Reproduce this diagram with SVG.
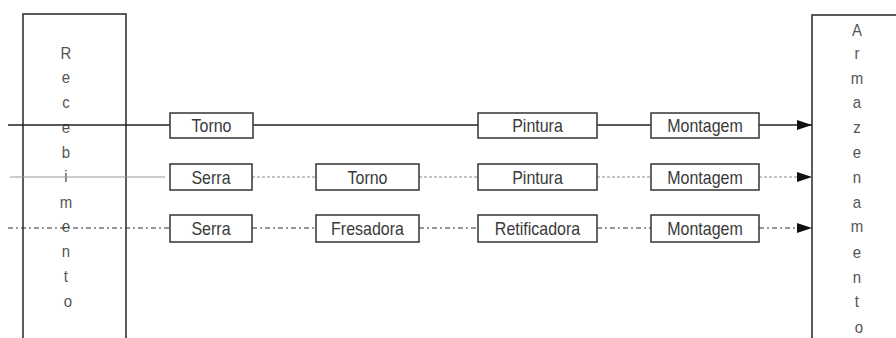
<svg xmlns="http://www.w3.org/2000/svg" width="896" height="338" viewBox="0 0 896 338">
  <style>
    .bg { fill: #ffffff; }
    .area { fill: #ffffff; stroke: #333333; stroke-width: 1.6; }
    .step rect { fill: #ffffff; stroke: #333333; stroke-width: 1.5; }
    .label { font-family: "Liberation Sans", Arial, sans-serif; font-size: 16px; fill: #3a3a3a; text-anchor: middle; }
    .vlabel { font-family: "Liberation Sans", Arial, sans-serif; font-size: 15px; fill: #555555; text-anchor: middle; }
    .route1 { stroke: #222222; stroke-width: 1.5; fill: none; }
    .route2 { stroke: #8a8a8a; stroke-width: 1.2; fill: none; stroke-dasharray: 3 2; }
    .route2a { stroke: #9a9a9a; stroke-width: 1.2; fill: none; }
    .route3 { stroke: #333333; stroke-width: 1.2; fill: none; stroke-dasharray: 5 3 2 3; }
  </style>
  <defs>
    <marker id="arrow" markerUnits="userSpaceOnUse" markerWidth="16" markerHeight="12" refX="15" refY="5" orient="auto">
      <path d="M0,0 L15,5 L0,10 Z" fill="#111111"/>
    </marker>
  </defs>

  <rect class="bg" x="0" y="0" width="896" height="338"/>

  <!-- receiving and storage areas -->
  <g id="recebimento">
    <rect class="area" x="23" y="14" width="103" height="340"/>
    <g transform="translate(68,0) scale(1,1.15)">
      <text class="vlabel">
        <tspan x="0" y="51">R</tspan>
        <tspan x="0" y="72.5">e</tspan>
        <tspan x="0" y="94">c</tspan>
        <tspan x="0" y="115.8">e</tspan>
        <tspan x="0" y="137.5">b</tspan>
        <tspan x="0" y="158.5">i</tspan>
        <tspan x="0" y="180.5">m</tspan>
        <tspan x="0" y="202">e</tspan>
        <tspan x="0" y="223.5">n</tspan>
        <tspan x="0" y="245.5">t</tspan>
        <tspan x="0" y="267">o</tspan>
      </text>
    </g>
  </g>
  <g id="armazenamento">
    <rect class="area" x="812" y="15" width="110" height="340"/>
    <g transform="translate(859,0) scale(1,1.15)">
      <text class="vlabel">
        <tspan x="0" y="31">A</tspan>
        <tspan x="0" y="51">r</tspan>
        <tspan x="0" y="73">m</tspan>
        <tspan x="0" y="94">a</tspan>
        <tspan x="0" y="116">z</tspan>
        <tspan x="0" y="137.5">e</tspan>
        <tspan x="0" y="159">n</tspan>
        <tspan x="0" y="181">a</tspan>
        <tspan x="0" y="202">m</tspan>
        <tspan x="0" y="224">e</tspan>
        <tspan x="0" y="246.5">n</tspan>
        <tspan x="0" y="267">t</tspan>
        <tspan x="0" y="289.5">o</tspan>
      </text>
    </g>
  </g>

  <!-- routes between the operations -->
  <g id="connectors">
    <!-- route 1: solid -->
    <line class="route1" x1="8" y1="125" x2="170" y2="125"/>
    <line class="route1" x1="253" y1="125" x2="478" y2="125"/>
    <line class="route1" x1="597" y1="125" x2="651" y2="125"/>
    <line class="route1" x1="759" y1="125" x2="812" y2="125" marker-end="url(#arrow)"/>
    <!-- route 2: light dashed -->
    <line class="route2a" x1="10" y1="177" x2="165" y2="177"/>
    <line class="route2" x1="252" y1="177" x2="316" y2="177"/>
    <line class="route2" x1="419" y1="177" x2="478" y2="177"/>
    <line class="route2" x1="597" y1="177" x2="651" y2="177"/>
    <line class="route2" x1="759" y1="177" x2="812" y2="177" marker-end="url(#arrow)"/>
    <!-- route 3: dash-dot -->
    <line class="route3" x1="8" y1="228" x2="170" y2="228"/>
    <line class="route3" x1="252" y1="228" x2="316" y2="228"/>
    <line class="route3" x1="419" y1="228" x2="478" y2="228"/>
    <line class="route3" x1="597" y1="228" x2="651" y2="228"/>
    <line class="route3" x1="759" y1="228" x2="812" y2="228" marker-end="url(#arrow)"/>
  </g>

  <!-- route 1 operations -->
  <g id="torno-1" class="step">
    <rect x="170" y="113" width="83" height="25"/>
    <text class="label" transform="translate(211.5,132) scale(1,1.15)">Torno</text>
  </g>
  <g id="pintura-1" class="step">
    <rect x="478" y="113" width="119" height="25"/>
    <text class="label" transform="translate(537.5,132) scale(1,1.15)">Pintura</text>
  </g>
  <g id="montagem-1" class="step">
    <rect x="651" y="113" width="108" height="25"/>
    <text class="label" transform="translate(705,132) scale(1,1.15)">Montagem</text>
  </g>

  <!-- route 2 operations -->
  <g id="serra-2" class="step">
    <rect x="170" y="164" width="82" height="26"/>
    <text class="label" transform="translate(211,184) scale(1,1.15)">Serra</text>
  </g>
  <g id="torno-2" class="step">
    <rect x="316" y="164" width="103" height="26"/>
    <text class="label" transform="translate(367.5,184) scale(1,1.15)">Torno</text>
  </g>
  <g id="pintura-2" class="step">
    <rect x="478" y="164" width="119" height="26"/>
    <text class="label" transform="translate(537.5,184) scale(1,1.15)">Pintura</text>
  </g>
  <g id="montagem-2" class="step">
    <rect x="651" y="164" width="108" height="26"/>
    <text class="label" transform="translate(705,184) scale(1,1.15)">Montagem</text>
  </g>

  <!-- route 3 operations -->
  <g id="serra-3" class="step">
    <rect x="170" y="215" width="82" height="27"/>
    <text class="label" transform="translate(211,235) scale(1,1.15)">Serra</text>
  </g>
  <g id="fresadora-3" class="step">
    <rect x="316" y="215" width="103" height="27"/>
    <text class="label" transform="translate(367.5,235) scale(1,1.15)">Fresadora</text>
  </g>
  <g id="retificadora-3" class="step">
    <rect x="478" y="215" width="119" height="27"/>
    <text class="label" transform="translate(537.5,235) scale(1,1.15)">Retificadora</text>
  </g>
  <g id="montagem-3" class="step">
    <rect x="651" y="215" width="108" height="27"/>
    <text class="label" transform="translate(705,235) scale(1,1.15)">Montagem</text>
  </g>
</svg>
